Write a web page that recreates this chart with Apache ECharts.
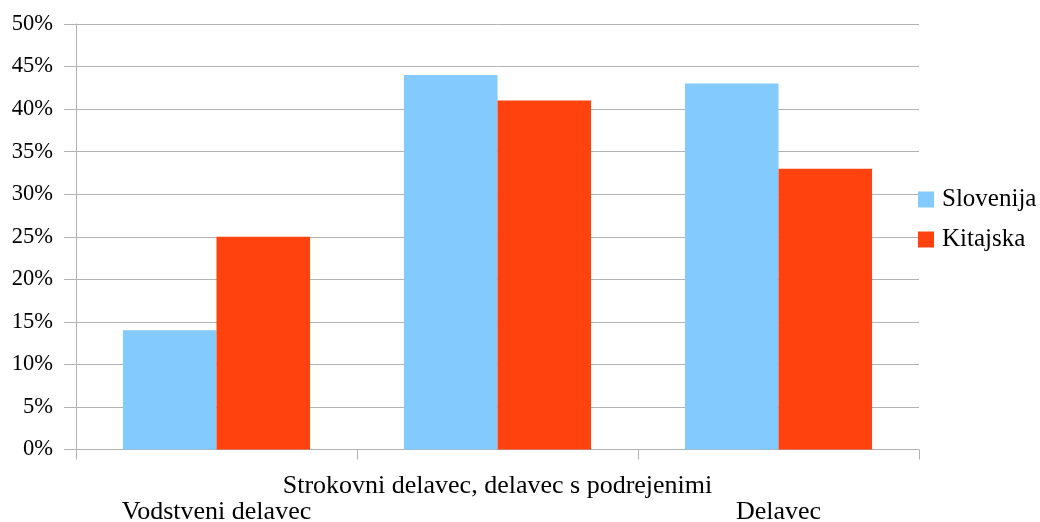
<!DOCTYPE html>
<html>
<head>
<meta charset="utf-8">
<script src="https://cdn.jsdelivr.net/npm/echarts@6/dist/echarts.min.js"></script>
<style>
  html, body { margin: 0; padding: 0; background: #fff; }
  #chart { width: 1040px; height: 522px; }
</style>
</head>
<body>
<div id="chart"></div>
<script>
// Work position categories and share of respondents (%) per country
const categories = ['Vodstveni delavec', 'Strokovni delavec, delavec s podrejenimi', 'Delavec'];
const slovenija = [14, 44, 43];
const kitajska = [25, 41, 33];
const seriesNames = ['Slovenija', 'Kitajska'];

const FONT = 'Liberation Serif';
const GRID_COLOR = '#b3b3b3';

const chart = echarts.init(document.getElementById('chart'), null, { renderer: 'canvas' });

chart.setOption({
  backgroundColor: '#ffffff',
  animation: false,
  textStyle: { fontFamily: FONT, color: '#000' },
  grid: { left: 76, right: 121, top: 24, bottom: 72.5, containLabel: false, outerBoundsMode: 'none' },
  legend: {
    orient: 'vertical',
    left: 918,
    top: 187,
    padding: 0,
    icon: 'rect',
    itemWidth: 16,
    itemHeight: 16,
    itemGap: 15,
    textStyle: { fontFamily: FONT, fontSize: 25, color: '#000', padding: [0, 0, 0, 3] },
    data: seriesNames
  },
  xAxis: {
    type: 'category',
    data: categories,
    boundaryGap: true,
    axisLine: { show: true, lineStyle: { color: GRID_COLOR, width: 1 } },
    axisTick: { show: true, length: 10, alignWithLabel: false, lineStyle: { color: GRID_COLOR } },
    axisLabel: {
      interval: 0,
      margin: 24,
      fontFamily: FONT,
      fontSize: 26,
      color: '#000',
      lineHeight: 26,
      // stagger the long category names over two rows
      formatter: (v, i) => (i % 2 === 0 ? '\n' + v : v)
    }
  },
  yAxis: {
    type: 'value',
    min: 0,
    max: 50,
    interval: 5,
    axisLine: { show: true, lineStyle: { color: GRID_COLOR, width: 1 } },
    axisTick: { show: true, length: 12, lineStyle: { color: GRID_COLOR } },
    splitLine: { show: true, lineStyle: { color: GRID_COLOR, width: 1 } },
    axisLabel: {
      margin: 23,
      fontFamily: FONT,
      fontSize: 22.5,
      color: '#000',
      formatter: '{value}%'
    }
  },
  series: [
    {
      name: seriesNames[0],
      type: 'bar',
      data: slovenija,
      barGap: '0%',
      barCategoryGap: '33.4%',
      itemStyle: { color: '#83caff' }
    },
    {
      name: seriesNames[1],
      type: 'bar',
      data: kitajska,
      barGap: '0%',
      barCategoryGap: '33.4%',
      itemStyle: { color: '#ff420e' }
    }
  ]
});
</script>
</body>
</html>
